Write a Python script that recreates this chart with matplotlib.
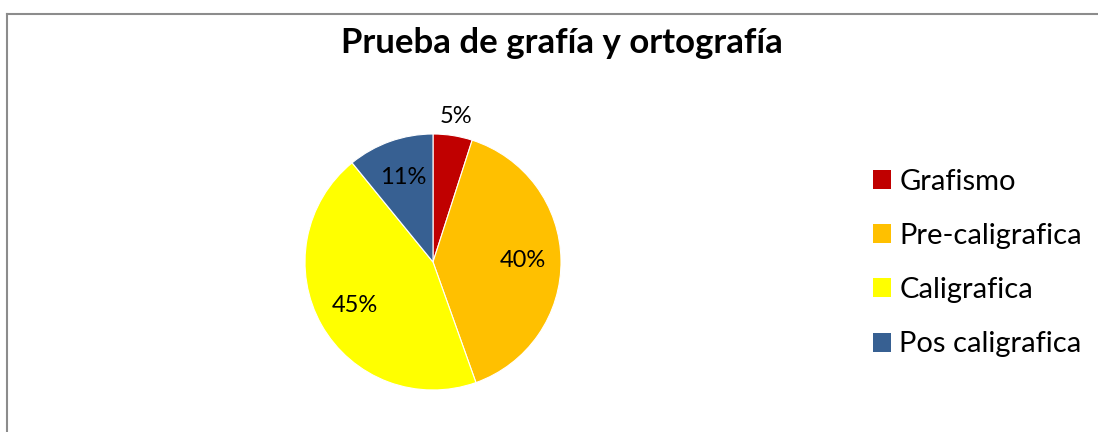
import numpy as np
import matplotlib
matplotlib.use("Agg")
import matplotlib.pyplot as plt
from matplotlib.lines import Line2D
from matplotlib.patches import Patch

categories = ["Grafismo", "Pre-caligrafica", "Caligrafica", "Pos caligrafica"]
values = [5, 40, 45, 11]
colors = ["#C00000", "#FFC000", "#FFFF00", "#376092"]
title = "Prueba de grafía y ortografía"

plt.rcParams['font.family'] = ['Lato', 'DejaVu Sans']

W, H = 1098, 432
fig = plt.figure(figsize=(W / 100, H / 100), dpi=100)

# frame lines (top and left)
fig.add_artist(Line2D([7 / W, 1], [1 - 14 / H, 1 - 14 / H], transform=fig.transFigure,
                      color="#8c8c8c", lw=1.5))
fig.add_artist(Line2D([7 / W, 7 / W], [0, 1 - 14 / H], transform=fig.transFigure,
                      color="#8c8c8c", lw=1.5))

fig.text(562 / W, 1 - 43 / H, title, ha="center", va="center",
         fontsize=25, fontweight="bold", color="black")

cx, cy, r = 433, 262, 128
ax = fig.add_axes([(cx - r) / W, 1 - (cy + r) / H, 2 * r / W, 2 * r / H])
wedges, texts, autotexts = ax.pie(values, colors=colors, startangle=90, counterclock=False,
                                  autopct='%.0f%%', pctdistance=0.70, radius=1,
                                  textprops=dict(fontsize=17, color="black"),
                                  wedgeprops=dict(linewidth=0.8, edgecolor="white"))
ax.set_xlim(-1, 1)
ax.set_ylim(-1, 1)
ax.set_aspect("equal")
ax.axis("off")

# move the small first label outside the pie
total = sum(values)
frac0 = values[0] / total
ang = np.deg2rad(90 - 360 * frac0 / 2)
d = 1.15
autotexts[0].set_position((d * np.cos(ang), d * np.sin(ang)))
autotexts[0].set_clip_on(False)

handles = [Patch(facecolor=c, edgecolor="none") for c in colors]
fig.legend(handles, categories, loc="center left",
           bbox_to_anchor=(858 / W, 1 - 263 / H), frameon=False,
           fontsize=21, handlelength=0.62, handleheight=0.62, handletextpad=0.3,
           labelspacing=0.97, borderpad=0)

fig.savefig("out.png", dpi=100)
